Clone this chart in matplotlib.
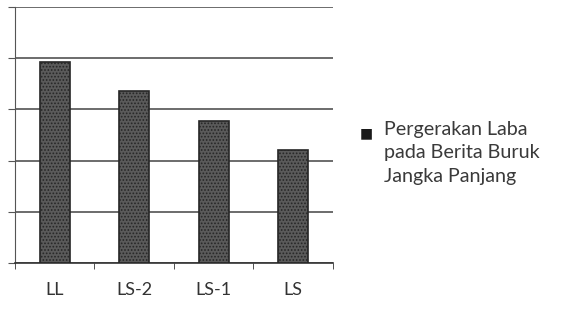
import matplotlib.pyplot as plt

# Categories and bar heights (no y labels shown in the original, read in grid units)
categories = ["LL", "LS-2", "LS-1", "LS"]
values = [3.92, 3.37, 2.78, 2.2]
legend_label = "Pergerakan Laba\npada Berita Buruk\nJangka Panjang"

plt.rcParams['font.family'] = ['Lato', 'DejaVu Sans']
plt.rcParams['hatch.color'] = '#d8d8d8'
plt.rcParams['hatch.linewidth'] = 0.8

fig = plt.figure(figsize=(5.77, 3.23), dpi=100)
ax = fig.add_axes([0.026, 0.186, 0.551, 0.792])

x = list(range(len(categories)))
ax.bar(x, values, width=0.38, color='#5a5a5a', edgecolor='#262626',
       linewidth=1.2, hatch='.....', zorder=3)

# axis setup
ax.set_xlim(-0.5, len(categories) - 0.5)
ax.set_ylim(0, 5)
ax.set_yticks([0, 1, 2, 3, 4, 5])
ax.set_yticklabels([])
ax.yaxis.grid(True, color='#444444', linewidth=1.1, zorder=0)
ax.set_xticks(x)
ax.set_xticklabels(categories, fontsize=13, color='#333333')
ax.set_xticks([i - 0.5 for i in range(len(categories) + 1)], minor=True)
ax.tick_params(axis='x', which='major', length=0, pad=14)
ax.tick_params(axis='x', which='minor', length=4, direction='out', color='#333333')
ax.tick_params(axis='y', length=5, direction='out', color='#555555')
for side in ['top', 'right']:
    ax.spines[side].set_visible(False)
ax.spines['left'].set_color('#555555')
ax.spines['bottom'].set_color('#333333')
ax.spines['bottom'].set_linewidth(1.2)

# legend at the right: square key plus wrapped label
fig.text(0.624, 0.588, "■", fontsize=10, color='#1a1a1a', va='center',
         family='DejaVu Sans')
fig.text(0.665, 0.625, legend_label, fontsize=14.2, color='#3a3a3a',
         va='top', ha='left', linespacing=1.45)

fig.savefig('out.png', dpi=100)
